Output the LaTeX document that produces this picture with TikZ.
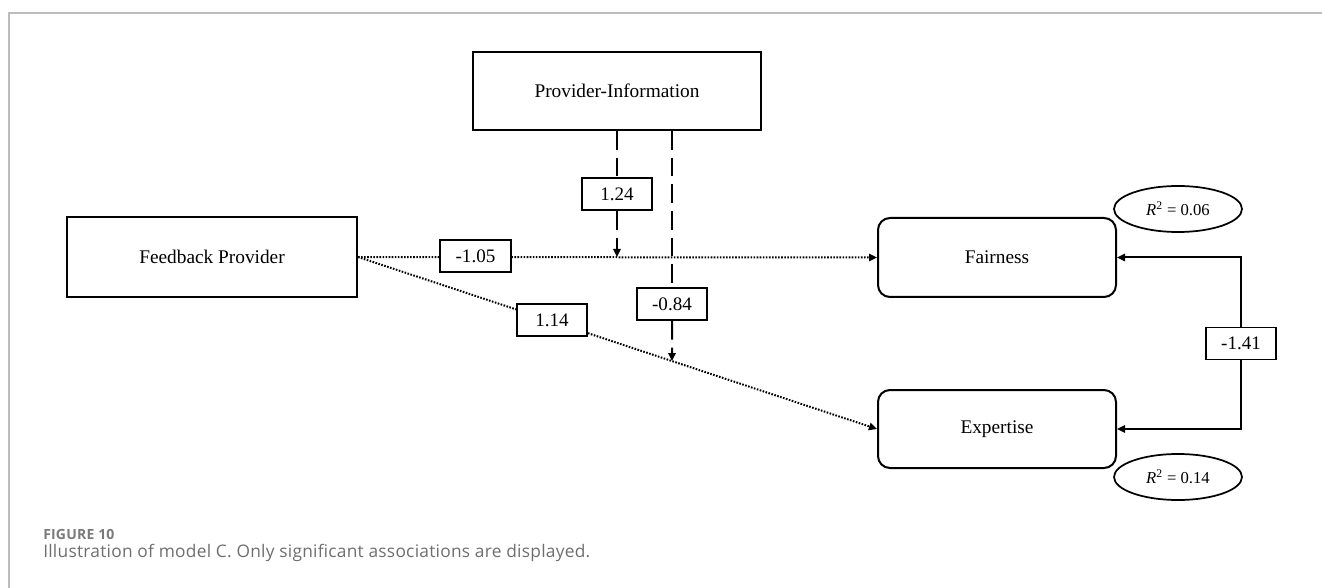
\documentclass[tikz,border=0pt]{standalone}
\usepackage{fontspec}
\setmainfont{Liberation Serif}
\newfontfamily\capfont[LetterSpace=1.5]{Open Sans}
\usetikzlibrary{arrows.meta,shapes.geometric,backgrounds}
\definecolor{framegray}{HTML}{BDBDBD}
\definecolor{capgray}{HTML}{6E6E6E}
\definecolor{labgray}{HTML}{7A7A7A}
\tikzset{
  varbox/.style={draw, line width=1.5pt, rectangle, inner sep=0pt, fill=white,
    font=\fontsize{14.5}{16}\selectfont},
  outbox/.style={varbox, rounded corners=9pt},
  coef/.style={draw, line width=1.4pt, rectangle, inner sep=0pt, fill=white,
    minimum width=53pt, minimum height=24pt, font=\fontsize{14.3}{16}\selectfont},
  rsq/.style={draw, line width=1.3pt, ellipse, inner sep=0pt, fill=white,
    minimum width=96pt, minimum height=34.5pt, font=\fontsize{12.5}{14}\selectfont},
  tip/.style={-{Triangle[length=6pt,width=5.5pt]}},
  dotpath/.style={line width=1.5pt, dash pattern=on 1.2pt off 1.1pt, tip},
  dashpath/.style={line width=1.5pt, dash pattern=on 14pt off 6pt},
  solidpath/.style={line width=1.5pt, tip},
}
\begin{document}
\begin{tikzpicture}[x=0.75pt, y=-0.75pt]
\useasboundingbox (0,0) rectangle (1322,588);
% panel frame
\draw[framegray, line width=1.1pt] (9,588) -- (9,13) -- (1322,13);

% variables
\node[varbox, minimum width=216pt, minimum height=58.5pt] (pi) at (617,91) {Provider-Information};
\node[varbox, minimum width=217.5pt, minimum height=60pt] (fb) at (212,257) {Feedback Provider};
\node[outbox, minimum width=178.5pt, minimum height=59.25pt] (fa) at (997,257.5) {Fairness};
\node[outbox, minimum width=178.5pt, minimum height=58.5pt] (ex) at (997,429) {Expertise};

% explained variance
\node[rsq] (r2a) at (1178,209) {\textit{R}\textsuperscript{2} = 0.06};
\node[rsq] (r2b) at (1178,477) {\textit{R}\textsuperscript{2} = 0.14};

% path coefficients
\node[coef] (c124) at (617,194) {1.24};
\node[coef] (c105) at (475.5,256) {-1.05};
\node[coef] (c084) at (672,304) {-0.84};
\node[coef] (c114) at (552,320) {1.14};
\node[coef] (c141) at (1241,343.5) {-1.41};

\coordinate (m1) at (c124 |- fb.east);
\path (intersection of fb.east--ex.west and c084.center--c084.south) coordinate (m2);

\begin{pgfonlayer}{background}
  % direct effects
  \draw[dotpath] (fb.east) -- (fa.west);
  \draw[dotpath] (fb.east) -- (ex.west);
  % moderation
  \draw[dashpath] (pi.south -| c124) -- (c124.north);
  \draw[dashpath, tip] (c124.south) -- (m1);
  \draw[dashpath] (pi.south -| c084) -- (c084.north);
  \draw[dashpath, tip] (c084.south) -- (m2);
  % outcome association
  \draw[solidpath] (c141.north) |- (fa.east);
  \draw[solidpath] (c141.south) |- (ex.east);
\end{pgfonlayer}

% caption
\node[anchor=base west, inner sep=0pt, text=labgray, font=\capfont\bfseries\fontsize{10.5}{12}\selectfont] (figlab) at (43,539) {FIGURE 10};
\node[anchor=base west, inner sep=0pt, text=capgray, font=\capfont\fontsize{13}{15}\selectfont] (figcap) at (43,557) {Illustration of model C. Only significant associations are displayed.};
\end{tikzpicture}
\end{document}
